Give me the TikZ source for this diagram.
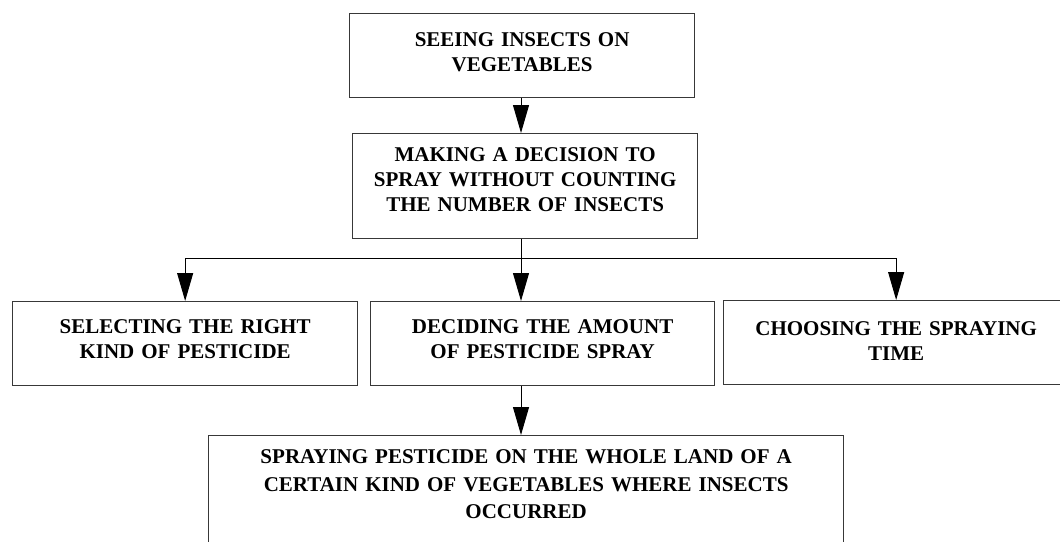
\documentclass[tikz,border=0pt]{standalone}
\usepackage{fontspec}
\setmainfont{Liberation Serif}
\usetikzlibrary{arrows.meta}
\tikzset{
  stepbox/.style={draw=black!78, line width=1.3pt, inner sep=0pt, anchor=north west,
    align=center, font=\bfseries\fontsize{21}{25}\selectfont},
  arr/.style={-{Triangle[length=28pt,width=16pt]}, line width=1pt},
}
\begin{document}
\begin{tikzpicture}[x=1pt,y=-1pt]
  \useasboundingbox (0,0) rectangle (1060,541);
  % boxes
  \node[stepbox, text width=345pt, text height=33pt, text depth=51pt] (see) at (349,13)
    {SEEING INSECTS ON\\VEGETABLES};
  \node[stepbox, text width=345pt, text height=28pt, text depth=77pt] (decide) at (352,133)
    {MAKING A DECISION TO\\SPRAY WITHOUT COUNTING\\THE NUMBER OF INSECTS};
  \node[stepbox, text width=345pt, text height=32pt, text depth=52pt] (kind) at (12,301)
    {SELECTING THE RIGHT\\KIND OF PESTICIDE};
  \node[stepbox, text width=344pt, text height=32pt, text depth=52pt] (amount) at (370,301)
    {DECIDING THE AMOUNT\\OF PESTICIDE SPRAY};
  \node[stepbox, text width=345pt, text height=35pt, text depth=49pt] (time) at (723,300)
    {CHOOSING THE SPRAYING\\TIME};
  \node[stepbox, text width=635pt, text height=28pt, text depth=130pt,
    font=\bfseries\fontsize{21}{27.5}\selectfont] (spray) at (208,435)
    {SPRAYING PESTICIDE ON THE WHOLE LAND OF A\\CERTAIN KIND OF VEGETABLES WHERE INSECTS\\OCCURRED};
  % connectors
  \coordinate (fork) at (521,258);
  \draw[arr] (see.south -| fork) -- (decide.north -| fork);
  \draw[line width=1pt] (decide.south -| fork) -- (fork);
  \draw[line width=1pt] (fork -| kind) -- (fork -| time);
  \draw[arr] (fork -| kind) -- (kind.north);
  \draw[arr] (fork) -- (amount.north -| fork);
  \draw[arr] (fork -| time) -- (time.north);
  \draw[arr] (amount.south -| fork) -- (spray.north -| fork);
\end{tikzpicture}
\end{document}
